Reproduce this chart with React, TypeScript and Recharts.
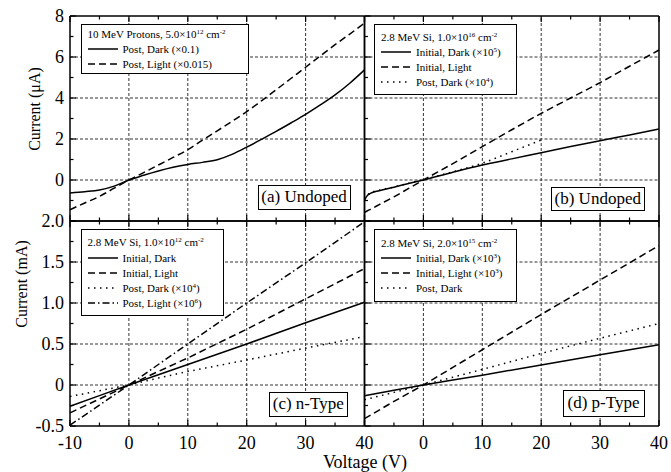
import type { ReactNode } from 'react';
import { Legend, Line, LineChart, ReferenceLine, XAxis, YAxis } from 'recharts';

const FONT = '"Liberation Serif", "Times New Roman", Times, serif';
const W = 671;
const H = 472;

// shared axes
const voltTicks = [-10, -5, 0, 5, 10, 15, 20, 25, 30, 35, 40];
const voltMajor = [-10, 0, 10, 20, 30, 40];
const voltGrid = [0, 10, 20, 30];
const microTicks = [-2, -1, 0, 1, 2, 3, 4, 5, 6, 7, 8];
const microMajor = [-2, 0, 2, 4, 6, 8];
const microLabels = [0, 2, 4, 6, 8];
const microGrid = [0, 2, 4, 6];
const milliTicks = [-0.5, -0.25, 0, 0.25, 0.5, 0.75, 1, 1.25, 1.5, 1.75, 2];
const milliMajor = [-0.5, 0, 0.5, 1, 1.5, 2];
const milliGrid = [0, 0.5, 1, 1.5];

// (a) 10 MeV protons, undoped
const voltsA = [-10, -7.5, -5, -2.5, 0, 2.5, 5, 7.5, 10, 12.5, 15, 17.5, 20, 22.5, 25, 27.5, 30, 32.5, 35, 37.5, 40];
const aPostDark = [-0.63, -0.57, -0.49, -0.3, 0, 0.23, 0.44, 0.62, 0.76, 0.86, 0.99, 1.25, 1.6, 1.98, 2.37, 2.78, 3.2, 3.66, 4.15, 4.72, 5.37];
const aPostLight = [-1.45, -1.12, -0.8, -0.4, 0, 0.36, 0.73, 1.1, 1.48, 1.94, 2.4, 2.86, 3.33, 3.86, 4.4, 4.95, 5.5, 6.05, 6.6, 7.12, 7.65];

// (b) 2.8 MeV Si, undoped
const voltsB = [-10, -9.5, -9, -7.5, -5, -2.5, 0, 5, 10, 15, 20, 25, 30, 35, 40];
const bInitDark = [-0.98, -0.75, -0.65, -0.52, -0.35, -0.17, 0, 0.38, 0.73, 1.03, 1.33, 1.63, 1.92, 2.2, 2.49];
const bInitLight = [-1.58, -1.5, -1.43, -1.2, -0.82, -0.41, 0, 0.8, 1.63, 2.45, 3.25, 4.0, 4.75, 5.55, 6.34];
const bPostDark = [-0.95, -0.73, -0.63, -0.5, -0.34, -0.16, 0.02, 0.4, 0.82, 1.38, 1.95, null, null, null, null];

// (c) 2.8 MeV Si, n-type
const voltsC = [-10, -5, 0, 5, 10, 20, 30, 40];
const cInitDark = [-0.26, -0.13, 0, 0.125, 0.25, 0.5, 0.76, 1.01];
const cInitLight = [-0.34, -0.17, 0, 0.165, 0.33, 0.68, 1.05, 1.42];
const cPostDark = [-0.14, -0.07, 0, 0.085, 0.165, 0.305, 0.45, 0.59];
const cPostLight = [-0.49, -0.245, 0, 0.25, 0.5, 1.0, 1.49, 1.99];

// (d) 2.8 MeV Si, p-type
const voltsD = [-10, -5, 0, 5, 10, 20, 30, 40];
const dInitDark = [-0.13, -0.065, 0, 0.06, 0.12, 0.245, 0.37, 0.49];
const dInitLight = [-0.41, -0.2, 0, 0.215, 0.43, 0.86, 1.28, 1.7];
const dPostDark = [-0.18, -0.09, 0, 0.095, 0.19, 0.385, 0.57, 0.75];

const DASH = '7 4';
const DOT = '1.5 4.5';
const DASHDOT = '7 3 1.5 3';

const rowsOf = (volts: number[], series: Record<string, (number | null)[]>) =>
  volts.map((v, i) => {
    const row: Record<string, number | null> = { v };
    for (const k of Object.keys(series)) row[k] = series[k][i];
    return row;
  });

const tickText = { fontSize: 18, fontFamily: FONT, fill: '#000' };
const TICK = { stroke: '#000', strokeWidth: 1.2 };
const AXIS = { stroke: '#000', strokeWidth: 1.5 };

// axes are 1px thick (recharts skips 0-size axes), ticks drawn inward by hand
const bottomTick = (labels: number[]) => (p: any) => {
  const v = p.payload.value as number;
  const major = voltMajor.includes(v);
  const y = p.y;
  return (
    <g>
      <line x1={p.x} x2={p.x} y1={y} y2={y - (major ? 6 : 3.5)} {...TICK} />
      {labels.includes(v) && (
        <text x={p.x} y={y + 23} textAnchor="middle" {...tickText}>
          {v}
        </text>
      )}
    </g>
  );
};

const topTick = (p: any) => {
  const major = voltMajor.includes(p.payload.value);
  return <line x1={p.x} x2={p.x} y1={p.y} y2={p.y + (major ? 6 : 3.5)} {...TICK} />;
};

const leftTick = (major: number[], labels: number[], fmt: (v: number) => string) => (p: any) => {
  const v = p.payload.value as number;
  const isMajor = major.includes(v);
  return (
    <g>
      <line x1={p.x} x2={p.x + (isMajor ? 6 : 3.5)} y1={p.y} y2={p.y} {...TICK} />
      {labels.includes(v) && (
        <text x={p.x - 6} y={p.y} dy="0.35em" textAnchor="end" {...tickText}>
          {fmt(v)}
        </text>
      )}
    </g>
  );
};

const rightTick = (major: number[]) => (p: any) => {
  const isMajor = major.includes(p.payload.value);
  return <line x1={p.x} x2={p.x - (isMajor ? 6 : 3.5)} y1={p.y} y2={p.y} {...TICK} />;
};

type Series = { key: string; name: ReactNode; dash?: string };
type Box = { left: number; top: number; right: number; bottom: number };

type PanelProps = {
  data: Record<string, number | null>[];
  series: Series[];
  plot: Box;
  yDomain: [number, number];
  yTicks: number[];
  yMajor: number[];
  yLabels: number[];
  yGrid: number[];
  yFmt: (v: number) => string;
  xLabels: number[];
  curve: 'monotone' | 'linear';
  title: ReactNode;
  legendPos: { left: number; top: number; width: number; height: number };
};

const LegendBox = ({ title, series, pos }: { title: ReactNode; series: Series[]; pos: PanelProps['legendPos'] }) => (
  <div
    style={{
      width: pos.width,
      height: pos.height,
      boxSizing: 'border-box',
      border: '1.3px solid #000',
      background: '#fff',
      fontFamily: FONT,
      fontSize: 11,
      color: '#000',
      display: 'flex',
      flexDirection: 'column',
      justifyContent: 'center',
      padding: '0 6px',
    }}
  >
    <div style={{ lineHeight: '15px', whiteSpace: 'nowrap' }}>{title}</div>
    {series.map((s) => (
      <div key={s.key} style={{ display: 'flex', alignItems: 'center', height: 15, whiteSpace: 'nowrap' }}>
        <svg width={30} height={6} style={{ marginRight: 5 }}>
          <line x1={0} x2={30} y1={3} y2={3} stroke="#000" strokeWidth={1.5} strokeDasharray={s.dash} />
        </svg>
        <span>{s.name}</span>
      </div>
    ))}
  </div>
);

const Panel = (p: PanelProps) => (
  <div style={{ position: 'absolute', left: 0, top: 0 }}>
    <LineChart
      width={W}
      height={H}
      data={p.data}
      margin={{ top: p.plot.top - 1, left: p.plot.left - 1, right: W - p.plot.right - 1, bottom: H - p.plot.bottom - 1 }}
    >
      <XAxis
        xAxisId="b"
        dataKey="v"
        type="number"
        domain={[-10, 40]}
        ticks={voltTicks}
        interval={0}
        height={1}
        tickSize={0}
        tickMargin={0}
        tickLine={false}
        axisLine={AXIS}
        tick={bottomTick(p.xLabels)}
      />
      <XAxis
        xAxisId="t"
        orientation="top"
        dataKey="v"
        type="number"
        domain={[-10, 40]}
        ticks={voltTicks}
        interval={0}
        height={1}
        tickSize={0}
        tickMargin={0}
        tickLine={false}
        axisLine={AXIS}
        tick={topTick}
      />
      <YAxis
        yAxisId="l"
        type="number"
        domain={p.yDomain}
        ticks={p.yTicks}
        interval={0}
        width={1}
        tickSize={0}
        tickMargin={0}
        tickLine={false}
        axisLine={AXIS}
        tick={leftTick(p.yMajor, p.yLabels, p.yFmt)}
      />
      <YAxis
        yAxisId="r"
        orientation="right"
        type="number"
        domain={p.yDomain}
        ticks={p.yTicks}
        interval={0}
        width={1}
        tickSize={0}
        tickMargin={0}
        tickLine={false}
        axisLine={AXIS}
        tick={rightTick(p.yMajor)}
      />
      {voltGrid.map((v) => (
        <ReferenceLine key={`x${v}`} xAxisId="b" yAxisId="l" x={v} stroke="#333" strokeWidth={1} strokeDasharray="3 2" />
      ))}
      {p.yGrid.map((v) => (
        <ReferenceLine key={`y${v}`} xAxisId="b" yAxisId="l" y={v} stroke="#333" strokeWidth={1} strokeDasharray="3 2" />
      ))}
      {p.series.map((s) => (
        <Line
          key={s.key}
          xAxisId="b"
          yAxisId="l"
          dataKey={s.key}
          type={p.curve}
          stroke="#000"
          strokeWidth={1.5}
          strokeDasharray={s.dash}
          dot={false}
          activeDot={false}
          isAnimationActive={false}
        />
      ))}
      <Legend
        layout="horizontal"
        verticalAlign="middle"
        align="center"
        wrapperStyle={{ left: p.legendPos.left, top: p.legendPos.top, width: 'auto' }}
        content={() => <LegendBox title={p.title} series={p.series} pos={p.legendPos} />}
      />
    </LineChart>
  </div>
);

const microFmt = (v: number) => String(v);
const milliFmt = (v: number) => (v === 0 ? '0' : v.toFixed(1));

const sup = (s: string) => <sup style={{ fontSize: 7, verticalAlign: 4, lineHeight: 0 }}>{s}</sup>;

const labelBox = (text: string, left: number, top: number, width: number, height: number) => (
  <div
    style={{
      position: 'absolute',
      left,
      top,
      width,
      height,
      boxSizing: 'border-box',
      border: '1.3px solid #000',
      background: '#fff',
      fontFamily: FONT,
      fontSize: 17,
      lineHeight: `${height - 3}px`,
      textAlign: 'center',
      color: '#000',
      whiteSpace: 'nowrap',
    }}
  >
    {text}
  </div>
);

const axisTitle = (text: string, cx: number, cy: number, rotate: boolean, size: number) => (
  <div
    style={{
      position: 'absolute',
      left: cx,
      top: cy,
      transform: `translate(-50%, -50%)${rotate ? ' rotate(-90deg)' : ''}`,
      fontFamily: FONT,
      fontSize: size,
      color: '#000',
      whiteSpace: 'nowrap',
    }}
  >
    {text}
  </div>
);

export default function App() {
  return (
    <div style={{ position: 'absolute', left: 0, top: 0, width: W, height: H, background: '#fff', overflow: 'hidden' }}>
      <Panel
        data={rowsOf(voltsA, { dark: aPostDark, light: aPostLight })}
        series={[
          { key: 'dark', name: 'Post, Dark (×0.1)' },
          { key: 'light', name: 'Post, Light (×0.015)', dash: DASH },
        ]}
        plot={{ left: 70, top: 16, right: 364.5, bottom: 221 }}
        yDomain={[-2, 8]}
        yTicks={microTicks}
        yMajor={microMajor}
        yLabels={microLabels}
        yGrid={microGrid}
        yFmt={microFmt}
        xLabels={[]}
        curve="monotone"
        title={<>10 MeV Protons, 5.0×10{sup('12')} cm{sup('-2')}</>}
        legendPos={{ left: 80.5, top: 24, width: 168, height: 50 }}
      />
      <Panel
        data={rowsOf(voltsB, { dark: bInitDark, light: bInitLight, post: bPostDark })}
        series={[
          { key: 'dark', name: <>Initial, Dark (×10{sup('5')})</> },
          { key: 'light', name: 'Initial, Light', dash: DASH },
          { key: 'post', name: <>Post, Dark (×10{sup('4')})</>, dash: DOT },
        ]}
        plot={{ left: 364.5, top: 16, right: 659, bottom: 221 }}
        yDomain={[-2, 8]}
        yTicks={microTicks}
        yMajor={microMajor}
        yLabels={[]}
        yGrid={microGrid}
        yFmt={microFmt}
        xLabels={[]}
        curve="monotone"
        title={<>2.8 MeV Si, 1.0×10{sup('16')} cm{sup('-2')}</>}
        legendPos={{ left: 374, top: 24, width: 143, height: 71 }}
      />
      <Panel
        data={rowsOf(voltsC, { dark: cInitDark, light: cInitLight, post: cPostDark, postLight: cPostLight })}
        series={[
          { key: 'dark', name: 'Initial, Dark' },
          { key: 'light', name: 'Initial, Light', dash: DASH },
          { key: 'post', name: <>Post, Dark (×10{sup('4')})</>, dash: DOT },
          { key: 'postLight', name: <>Post, Light (×10{sup('6')})</>, dash: DASHDOT },
        ]}
        plot={{ left: 70, top: 221, right: 364.5, bottom: 426 }}
        yDomain={[-0.5, 2]}
        yTicks={milliTicks}
        yMajor={milliMajor}
        yLabels={milliMajor}
        yGrid={milliGrid}
        yFmt={milliFmt}
        xLabels={voltMajor}
        curve="linear"
        title={<>2.8 MeV Si, 1.0×10{sup('12')} cm{sup('-2')}</>}
        legendPos={{ left: 80.5, top: 229, width: 143, height: 87 }}
      />
      <Panel
        data={rowsOf(voltsD, { dark: dInitDark, light: dInitLight, post: dPostDark })}
        series={[
          { key: 'dark', name: <>Initial, Dark (×10{sup('3')})</> },
          { key: 'light', name: <>Initial, Light (×10{sup('3')})</>, dash: DASH },
          { key: 'post', name: 'Post, Dark', dash: DOT },
        ]}
        plot={{ left: 364.5, top: 221, right: 659, bottom: 426 }}
        yDomain={[-0.5, 2]}
        yTicks={milliTicks}
        yMajor={milliMajor}
        yLabels={[]}
        yGrid={milliGrid}
        yFmt={milliFmt}
        xLabels={voltMajor.filter((v) => v > -10)}
        curve="linear"
        title={<>2.8 MeV Si, 2.0×10{sup('15')} cm{sup('-2')}</>}
        legendPos={{ left: 374, top: 229, width: 143, height: 73 }}
      />
      {labelBox('(a) Undoped', 257.5, 185, 93, 25)}
      {labelBox('(b) Undoped', 551, 186.5, 93.5, 24.5)}
      {labelBox('(c) n-Type', 269, 391.5, 78.5, 25.5)}
      {labelBox('(d) p-Type', 562.5, 390, 82, 26.5)}
      {axisTitle('Current (μA)', 35, 109, true, 16)}
      {axisTitle('Current (mA)', 22, 284, true, 16)}
      {axisTitle('Voltage (V)', 365, 462, false, 18)}
    </div>
  );
}
